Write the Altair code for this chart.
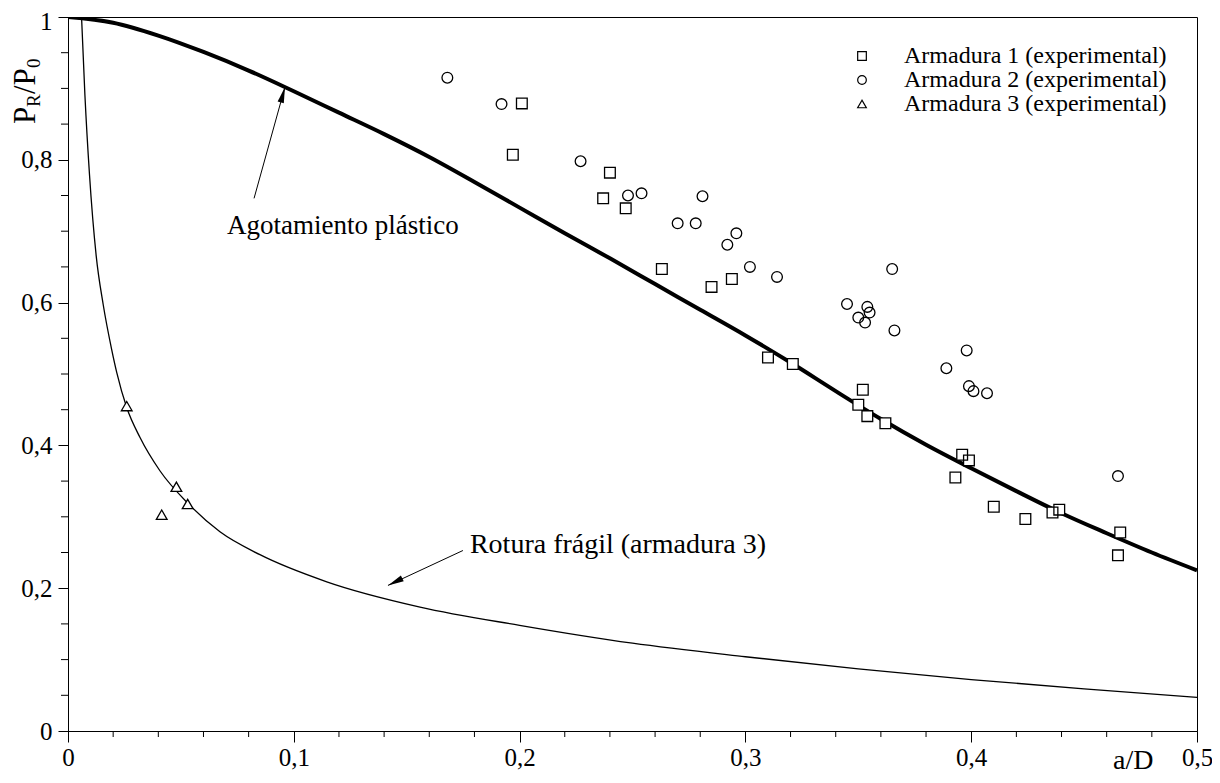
import altair as alt
import pandas as pd

# ---------------- data ----------------
a1_x = [0.201, 0.197, 0.240, 0.237, 0.247, 0.263, 0.294, 0.285, 0.310, 0.321, 0.352, 0.350,
        0.354, 0.362, 0.396, 0.399, 0.393, 0.410, 0.424, 0.436, 0.439, 0.466, 0.465]
a1_y = [0.879, 0.807, 0.782, 0.746, 0.732, 0.647, 0.633, 0.622, 0.523, 0.514, 0.478, 0.457,
        0.441, 0.431, 0.387, 0.379, 0.355, 0.314, 0.297, 0.306, 0.310, 0.278, 0.246]

a2_x = [0.168, 0.192, 0.227, 0.248, 0.254, 0.281, 0.270, 0.278, 0.296, 0.292, 0.302, 0.314,
        0.365, 0.345, 0.354, 0.355, 0.350, 0.353, 0.366, 0.398, 0.389, 0.399, 0.401, 0.407, 0.465]
a2_y = [0.915, 0.878, 0.798, 0.750, 0.753, 0.749, 0.711, 0.711, 0.697, 0.681, 0.650, 0.636,
        0.647, 0.598, 0.594, 0.586, 0.579, 0.572, 0.561, 0.533, 0.508, 0.483, 0.476, 0.473, 0.357]

a3_x = [0.026, 0.048, 0.053, 0.0415]
a3_y = [0.455, 0.342, 0.318, 0.303]

series_names = ["Armadura 1 (experimental)", "Armadura 2 (experimental)", "Armadura 3 (experimental)"]

plast_x = [0.0, 0.02, 0.04, 0.06, 0.08, 0.10, 0.12, 0.14, 0.16, 0.18, 0.20, 0.22, 0.24, 0.26,
           0.28, 0.30, 0.32, 0.34, 0.36, 0.38, 0.40, 0.42, 0.44, 0.46, 0.48, 0.50]
plast_y = [1.0, 0.992, 0.974, 0.951, 0.925, 0.896, 0.866, 0.836, 0.804, 0.769, 0.733, 0.697,
           0.662, 0.626, 0.590, 0.554, 0.516, 0.476, 0.437, 0.401, 0.368, 0.336, 0.305, 0.277,
           0.250, 0.225]

frag_x = [0.006, 0.0075, 0.0095, 0.0125, 0.0156, 0.0193, 0.0216, 0.026, 0.0319, 0.0407, 0.0534,
          0.0673, 0.085, 0.1146, 0.1559, 0.20, 0.25, 0.30, 0.35, 0.40, 0.45, 0.50]
frag_y = [1.0, 0.89, 0.78, 0.665, 0.597, 0.535, 0.502, 0.453, 0.411, 0.3645, 0.318,
          0.279, 0.247, 0.209, 0.1736, 0.148, 0.123, 0.104, 0.087, 0.072, 0.059, 0.047]

x_major = [0.0, 0.1, 0.2, 0.3, 0.4, 0.5]
x_minor = [0.02, 0.04, 0.06, 0.08, 0.12, 0.14, 0.16, 0.18, 0.22, 0.24, 0.26, 0.28,
           0.32, 0.34, 0.36, 0.38, 0.42, 0.44, 0.46, 0.48]
y_major = [0.0, 0.2, 0.4, 0.6, 0.8, 1.0]
y_minor = [0.05, 0.1, 0.15, 0.25, 0.3, 0.35, 0.45, 0.5, 0.55, 0.65, 0.7, 0.75, 0.85, 0.9, 0.95]

# annotations (data coordinates)
arrow1_x = [0.0824, 0.0961]
arrow1_y = [0.746, 0.902]
arrow2_x = [0.1749, 0.1417]
arrow2_y = [0.2528, 0.2039]
label1 = "Agotamiento plástico"
label2 = "Rotura frágil (armadura 3)"

FONT = "Liberation Serif"
FS = 25
W, H = 1129, 714

xs = alt.Scale(domain=[0, 0.5], nice=False, zero=False)
ys = alt.Scale(domain=[0, 1], nice=False, zero=False)
label_expr = "replace(format(datum.value, '~g'), '.', ',')"
shape_scale = alt.Scale(domain=series_names, range=["square", "circle", "triangle-up"])

# ---------------- layers ----------------
plast_df = pd.DataFrame({"x": plast_x, "y": plast_y})
frag_df = pd.DataFrame({"x": frag_x, "y": frag_y})

plastic = alt.Chart(plast_df).mark_line(color="black", strokeWidth=4, clip=True,
                                        interpolate="monotone").encode(
    x=alt.X("x:Q", scale=xs, title=None,
            axis=alt.Axis(values=x_major, tickSize=11, tickColor="black", domainColor="black",
                          labelFont=FONT, labelFontSize=FS, labelColor="black", labelPadding=3,
                          labelExpr=label_expr, labelFlush=False, labelOverlap=False, grid=False)),
    y=alt.Y("y:Q", scale=ys, title=None,
            axis=alt.Axis(values=y_major, tickSize=10, tickColor="black", domainColor="black",
                          labelFont=FONT, labelFontSize=FS, labelColor="black", labelPadding=6,
                          labelOffset={"condition": {"test": "datum.value >= 1", "value": 4},
                                       "value": 0},
                          labelExpr=label_expr, labelFlush=False, labelOverlap=False, grid=False)),
)

fragile = alt.Chart(frag_df).mark_line(color="black", strokeWidth=1.3, clip=True,
                                       interpolate="monotone").encode(
    x=alt.X("x:Q", scale=xs), y=alt.Y("y:Q", scale=ys))

xminor = alt.Chart(pd.DataFrame({"x": x_minor})).mark_rule(color="black", strokeWidth=1).encode(
    x=alt.X("x:Q", scale=xs), y=alt.value(H), y2=alt.value(H + 6))
yminor = alt.Chart(pd.DataFrame({"y": y_minor})).mark_rule(color="black", strokeWidth=1).encode(
    y=alt.Y("y:Q", scale=ys), x=alt.value(-7), x2=alt.value(0))

pts_df = pd.concat([
    pd.DataFrame({"x": a1_x, "y": a1_y, "s": series_names[0]}),
    pd.DataFrame({"x": a2_x, "y": a2_y, "s": series_names[1]}),
    pd.DataFrame({"x": a3_x, "y": a3_y, "s": series_names[2]}),
], ignore_index=True)

# white interiors (no legend)
points_fill = alt.Chart(pts_df).mark_point(filled=True, color="white", size=115, opacity=1).encode(
    x=alt.X("x:Q", scale=xs), y=alt.Y("y:Q", scale=ys),
    shape=alt.Shape("s:N", scale=shape_scale, legend=None),
)

# black outlines (with legend)
points = alt.Chart(pts_df).mark_point(filled=False, color="black", strokeWidth=1.3, size=115,
                                      opacity=1).encode(
    x=alt.X("x:Q", scale=xs), y=alt.Y("y:Q", scale=ys),
    shape=alt.Shape("s:N", scale=shape_scale,
                    legend=alt.Legend(title=None, orient="none", legendX=782, legendY=27,
                                      labelFont=FONT, labelFontSize=24, labelColor="black",
                                      symbolStrokeColor="black", symbolStrokeWidth=1.2,
                                      symbolSize=75, symbolOpacity=1, rowPadding=0,
                                      labelOffset=30, labelLimit=400)),
)

a1 = alt.Chart(pd.DataFrame({"x": arrow1_x, "y": arrow1_y})).mark_line(color="black", strokeWidth=1).encode(
    x=alt.X("x:Q", scale=xs), y=alt.Y("y:Q", scale=ys))
a2 = alt.Chart(pd.DataFrame({"x": arrow2_x, "y": arrow2_y})).mark_line(color="black", strokeWidth=1).encode(
    x=alt.X("x:Q", scale=xs), y=alt.Y("y:Q", scale=ys))

head_path = "M0,0L-0.4,2L0.4,2Z"
h1 = alt.Chart(pd.DataFrame({"x": [arrow1_x[1]], "y": [arrow1_y[1]]})).mark_point(
    shape=head_path, filled=True, color="black", size=256, angle=15.5, opacity=1).encode(
    x=alt.X("x:Q", scale=xs), y=alt.Y("y:Q", scale=ys))
h2 = alt.Chart(pd.DataFrame({"x": [arrow2_x[1]], "y": [arrow2_y[1]]})).mark_point(
    shape=head_path, filled=True, color="black", size=256, angle=243.7, opacity=1).encode(
    x=alt.X("x:Q", scale=xs), y=alt.Y("y:Q", scale=ys))

t1 = alt.Chart(pd.DataFrame({"x": [0.0704], "y": [0.6955], "t": [label1]})).mark_text(
    font=FONT, fontSize=27, align="left", baseline="alphabetic", color="black").encode(
    x=alt.X("x:Q", scale=xs), y=alt.Y("y:Q", scale=ys), text="t:N")
t2 = alt.Chart(pd.DataFrame({"x": [0.178], "y": [0.2486], "t": [label2]})).mark_text(
    font=FONT, fontSize=28, align="left", baseline="alphabetic", color="black").encode(
    x=alt.X("x:Q", scale=xs), y=alt.Y("y:Q", scale=ys), text="t:N")

one = pd.DataFrame({"a": [0]})


def title_part(txt, size, px, py, angle=270):
    return alt.Chart(one).mark_text(text=txt, font=FONT, fontSize=size, align="left",
                                    baseline="alphabetic", angle=angle, color="black").encode(
        x=alt.value(px), y=alt.value(py))


yt = [
    title_part("P", 31, -33, 107),
    title_part("R", 19, -28, 90),
    title_part("/P", 31, -33, 77),
    title_part("0", 19, -28, 51),
]
xt = alt.Chart(one).mark_text(text="a/D", font=FONT, fontSize=28, align="left",
                              baseline="alphabetic", color="black").encode(
    x=alt.value(1045), y=alt.value(752))

chart = alt.layer(plastic, fragile, xminor, yminor, a1, a2, h1, h2, points_fill, points,
                  t1, t2, *yt, xt).resolve_legend(shape="independent").properties(
    width=W, height=H,
    autosize=alt.AutoSizeParams(type="none"),
    padding={"left": 60, "top": 9, "right": 15, "bottom": 44},
    background="white",
).configure_view(stroke="black", strokeWidth=1)

chart.save("out.html", embed_options={"renderer": "svg", "actions": False})
